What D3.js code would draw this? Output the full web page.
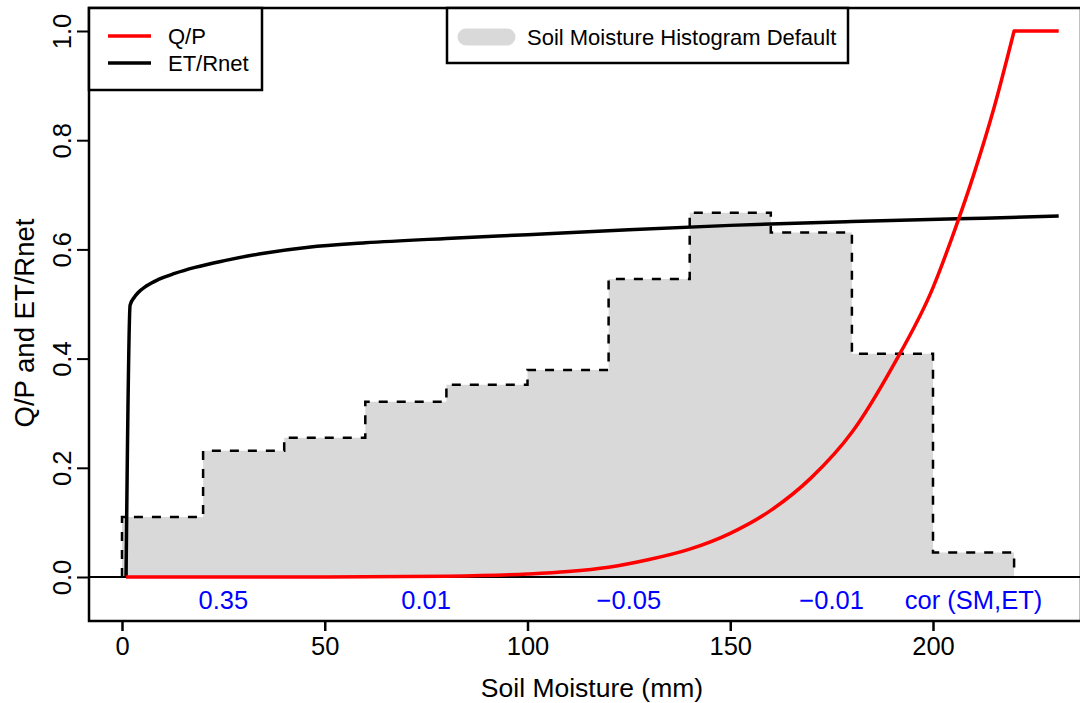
<!DOCTYPE html>
<html>
<head>
<meta charset="utf-8">
<script src="https://cdn.jsdelivr.net/npm/d3@7"></script>
<style>
  body { margin: 0; background: #fff; }
  svg { display: block; }
  text { font-family: "Liberation Sans", Arial, sans-serif; }
</style>
</head>
<body>
<script>
// histogram of soil moisture (density, bin width 20)
var histBreaks = [0, 20, 40, 60, 80, 100, 120, 140, 160, 180, 200, 220];
var histDensity = [0.110, 0.231, 0.255, 0.321, 0.352, 0.379, 0.546, 0.667, 0.631, 0.409, 0.045];

// Q/P curve (rising part, then flat at 1)
var qpSM = [1, 20, 40, 60, 80, 100, 110, 120, 130, 140, 150, 160, 170, 180, 190, 200, 205, 210, 215, 220];
var qpVal = [0, 0, 0.0001, 0.0003, 0.0014, 0.0055, 0.010, 0.018, 0.032, 0.051, 0.080, 0.122, 0.182, 0.265, 0.385, 0.530, 0.628, 0.736, 0.858, 1.0];
var qpFlatEnd = 231;

// ET/Rnet curve
var etSM = [1, 2, 3, 4, 6, 9, 13, 18, 25, 35, 46, 60, 80, 100, 125, 150, 180, 206, 231];
var etVal = [0, 0.498, 0.512, 0.521, 0.533, 0.545, 0.556, 0.567, 0.579, 0.593, 0.604, 0.612, 0.620, 0.627, 0.636, 0.644, 0.651, 0.656, 0.661];

// correlation labels
var corSM = [25, 75, 125, 175, 210];
var corLabels = ['0.35', '0.01', '\u22120.05', '\u22120.01', 'cor (SM,ET)'];

var xTicks = [0, 50, 100, 150, 200];
var yTicks = [0, 0.2, 0.4, 0.6, 0.8, 1.0];

var w = 1080;
var h = 703;
var box = {left: 89, right: 1081, top: 8, bottom: 621};

var svg = d3.select('body')
    .append('svg')
    .attr('width', w)
    .attr('height', h);

var x = d3.scaleLinear().domain([0, 200]).range([122, 933]);
var y = d3.scaleLinear().domain([0, 1]).range([577, 31]);

// histogram polygon
var histPts = [[histBreaks[0], 0]];
histDensity.forEach(function(d, i){
    histPts.push([histBreaks[i], d]);
    histPts.push([histBreaks[i + 1], d]);
});
histPts.push([histBreaks[histBreaks.length - 1], 0]);

var line = d3.line()
    .x(function(d){ return x(d[0]); })
    .y(function(d){ return y(d[1]); });

svg.append('path')
    .attr('d', line(histPts) + 'Z')
    .attr('fill', '#d9d9d9')
    .attr('stroke', 'none');

svg.append('path')
    .attr('d', line(histPts))
    .attr('fill', 'none')
    .attr('stroke', '#000')
    .attr('stroke-width', 2.5)
    .attr('stroke-dasharray', '9,9');

// y = 0 line
svg.append('line')
    .attr('x1', box.left).attr('x2', box.right)
    .attr('y1', y(0)).attr('y2', y(0))
    .attr('stroke', '#000')
    .attr('stroke-width', 2);

var curve = d3.line()
    .x(function(d){ return x(d[0]); })
    .y(function(d){ return y(d[1]); })
    .curve(d3.curveMonotoneX);

svg.append('path')
    .attr('d', curve(d3.zip(etSM, etVal)))
    .attr('fill', 'none')
    .attr('stroke', '#000')
    .attr('stroke-width', 3.5);

svg.append('path')
    .attr('d', curve(d3.zip(qpSM, qpVal)) + 'L' + x(qpFlatEnd) + ',' + y(qpVal[qpVal.length - 1]))
    .attr('fill', 'none')
    .attr('stroke', '#ff0000')
    .attr('stroke-width', 3.5)
    .attr('stroke-linejoin', 'round');

// correlation labels
svg.selectAll('text.cor')
    .data(corLabels)
    .enter()
    .append('text')
    .attr('class', 'cor')
    .text(function(d){ return d; })
    .attr('x', function(d, i){ return x(corSM[i]); })
    .attr('y', 609)
    .attr('text-anchor', 'middle')
    .attr('font-size', '25.5px')
    .attr('fill', '#0000ff');

// plot box
svg.append('rect')
    .attr('x', box.left)
    .attr('y', box.top)
    .attr('width', box.right - box.left)
    .attr('height', box.bottom - box.top)
    .attr('fill', 'none')
    .attr('stroke', '#000')
    .attr('stroke-width', 2.5);

// x axis
var xAxis = svg.append('g')
    .attr('transform', 'translate(0,' + box.bottom + ')')
    .call(d3.axisBottom(x).tickValues(xTicks).tickSize(10).tickPadding(6).tickFormat(d3.format('d')));
xAxis.select('.domain').remove();
xAxis.selectAll('line').attr('stroke-width', 2.5);
xAxis.selectAll('text')
    .attr('font-size', '25.5px')
    .attr('font-family', '"Liberation Sans", Arial, sans-serif')
    .attr('fill', '#000');

// y axis
var yAxis = svg.append('g')
    .attr('transform', 'translate(' + box.left + ',0)')
    .call(d3.axisLeft(y).tickValues(yTicks).tickSize(12).tickFormat(d3.format('.1f')));
yAxis.select('.domain')
    .attr('d', 'M0,' + y(1) + 'V' + y(0))
    .attr('stroke-width', 2);
yAxis.selectAll('line').attr('stroke-width', 2);
yAxis.selectAll('.tick text')
    .attr('font-size', '25.5px')
    .attr('font-family', '"Liberation Sans", Arial, sans-serif')
    .attr('fill', '#000')
    .attr('text-anchor', 'middle')
    .attr('x', 0).attr('dy', 0)
    .attr('transform', 'translate(-18,0) rotate(-90)');

// axis titles
svg.append('text')
    .text('Soil Moisture (mm)')
    .attr('x', 592)
    .attr('y', 697)
    .attr('text-anchor', 'middle')
    .attr('font-size', '26.5px');

svg.append('text')
    .text('Q/P and ET/Rnet')
    .attr('transform', 'translate(34,323) rotate(-90)')
    .attr('text-anchor', 'middle')
    .attr('font-size', '27.5px');

// legend left
var legL = svg.append('g');
legL.append('rect')
    .attr('x', box.left).attr('y', box.top)
    .attr('width', 173).attr('height', 82)
    .attr('fill', '#fff')
    .attr('stroke', '#000')
    .attr('stroke-width', 2.5);
var legItems = [{name: 'Q/P', color: '#ff0000'}, {name: 'ET/Rnet', color: '#000'}];
legL.selectAll('line.leg')
    .data(legItems)
    .enter()
    .append('line')
    .attr('x1', 108).attr('x2', 151)
    .attr('y1', function(d, i){ return 36 + i * 27; })
    .attr('y2', function(d, i){ return 36 + i * 27; })
    .attr('stroke', function(d){ return d.color; })
    .attr('stroke-width', 3.5);
legL.selectAll('text.leg')
    .data(legItems)
    .enter()
    .append('text')
    .text(function(d){ return d.name; })
    .attr('x', 168)
    .attr('y', function(d, i){ return 36 + i * 27; })
    .attr('dy', '0.35em')
    .attr('font-size', '22px')
    .attr('fill', '#000');

// legend histogram
var legR = svg.append('g');
legR.append('rect')
    .attr('x', 447).attr('y', box.top)
    .attr('width', 401).attr('height', 55)
    .attr('fill', '#fff')
    .attr('stroke', '#000')
    .attr('stroke-width', 2.5);
legR.append('line')
    .attr('x1', 466).attr('x2', 507)
    .attr('y1', 37).attr('y2', 37)
    .attr('stroke', '#d9d9d9')
    .attr('stroke-width', 17)
    .attr('stroke-linecap', 'round');
legR.append('text')
    .text('Soil Moisture Histogram Default')
    .attr('x', 527)
    .attr('y', 37)
    .attr('dy', '0.35em')
    .attr('font-size', '22px')
    .attr('fill', '#000');
</script>
</body>
</html>
